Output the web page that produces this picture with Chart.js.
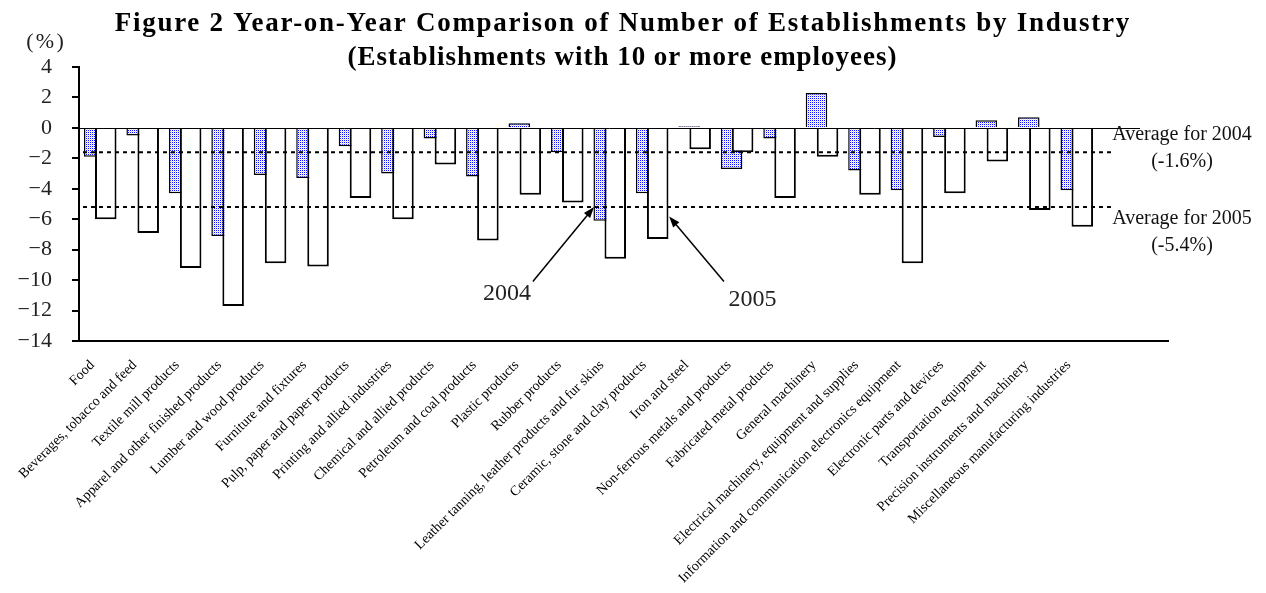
<!DOCTYPE html>
<html>
<head>
<meta charset="utf-8">
<script src="https://cdn.jsdelivr.net/npm/chart.js@4.4.1/dist/chart.umd.min.js"></script>
<style>
    html, body { margin: 0; padding: 0; background: #ffffff; }
</style>
</head>
<body>
<canvas id="barChart" width="1266" height="593"></canvas>
<script>
// categories and values (percent change)
const industries = [
    "Food",
    "Beverages, tobacco and feed",
    "Textile mill products",
    "Apparel and other finished products",
    "Lumber and wood products",
    "Furniture and fixtures",
    "Pulp, paper and paper products",
    "Printing and allied industries",
    "Chemical and allied products",
    "Petroleum and coal products",
    "Plastic products",
    "Rubber products",
    "Leather tanning, leather products and fur skins",
    "Ceramic, stone and clay products",
    "Iron and steel",
    "Non-ferrous metals and products",
    "Fabricated metal products",
    "General machinery",
    "Electrical machinery, equipment and supplies",
    "Information and communication electronics equipment",
    "Electronic parts and devices",
    "Transportation equipment",
    "Precision instruments and machinery",
    "Miscellaneous manufacturing industries"
];
const values2004 = [-1.9, -0.5, -4.3, -7.1, -3.1, -3.3, -1.2, -3.0, -0.7, -3.2, 0.3, -1.6,
    -6.1, -4.3, 0.1, -2.7, -0.7, 2.3, -2.8, -4.1, -0.6, 0.5, 0.7, -4.1];
const values2005 = [-6.0, -6.9, -9.2, -11.7, -8.9, -9.1, -4.6, -6.0, -2.4, -7.4, -4.4, -4.9,
    -8.6, -7.3, -1.4, -1.6, -4.6, -1.9, -4.4, -8.9, -4.3, -2.2, -5.4, -6.5];
const yTicks = [4, 2, 0, -2, -4, -6, -8, -10, -12, -14];

// average lines (as drawn) and their captions
const averageLines = [-1.6, -5.2];
const averageNotes = [
    { text: "Average for 2004", value: -0.45 },
    { text: "(-1.6%)", value: -2.2 },
    { text: "Average for 2005", value: -5.95 },
    { text: "(-5.4%)", value: -7.75 }
];
// arrow callouts: label position, arrow tail, arrow tip (category index, value)
const callouts = [
    { text: "2004", at: [9.58, -10.87], from: [10.19, -10.09], to: [11.63, -5.2] },
    { text: "2005", at: [15.36, -11.27], from: [14.69, -10.09], to: [13.4, -5.82] }
];

const serif = "'Liberation Serif', 'Times New Roman', serif";

function dotPattern(ctx) {
    let tile = document.createElement("canvas");
    tile.width = 2;
    tile.height = 2;
    let g = tile.getContext("2d");
    g.fillStyle = "#ffffff";
    g.fillRect(0, 0, 2, 2);
    g.fillStyle = "#0a0aff";
    g.fillRect(0, 0, 1, 1);
    g.fillStyle = "#d6d6ff";
    g.fillRect(1, 1, 1, 1);
    return ctx.createPattern(tile, "repeat");
}

function minus(v) {
    return v < 0 ? "\u2212" + Math.abs(v) : String(v);
}

// draw a line of text spread out to a given width
function spreadText(ctx, text, cx, cy, width) {
    ctx.letterSpacing = "0px";
    let plain = ctx.measureText(text).width;
    let gap = Math.max(0, (width - plain) / text.length);
    ctx.letterSpacing = gap.toFixed(2) + "px";
    ctx.fillText(text, cx + gap / 2, cy);
    ctx.letterSpacing = "0px";
}

const extras = {
    id: "extras",
    beforeDatasetDraw(chart, args) {
        // 2005 bars are drawn later, on top of the 2004 bars
        if (args.index === 1) return false;
    },
    afterDatasetsDraw(chart) {
        const { ctx, chartArea, scales } = chart;
        const x = scales.x, y = scales.y;
        chart.getDatasetMeta(1).controller.draw();

        ctx.save();
        // zero line
        let y0 = Math.round(y.getPixelForValue(0)) + 0.5;
        ctx.strokeStyle = "#000000";
        ctx.lineWidth = 1;
        ctx.beginPath();
        ctx.moveTo(chartArea.left, y0);
        ctx.lineTo(chartArea.right + 42, y0);
        ctx.stroke();

        // bottom line runs past the last category
        ctx.lineWidth = 2;
        ctx.beginPath();
        ctx.moveTo(chartArea.right - 2, chartArea.bottom);
        ctx.lineTo(chartArea.right + 71, chartArea.bottom);
        ctx.stroke();

        // dashed averages
        ctx.setLineDash([4, 4]);
        ctx.lineWidth = 2;
        averageLines.forEach(function (v) {
            let py = y.getPixelForValue(v);
            ctx.beginPath();
            ctx.moveTo(chartArea.left + 4, py);
            ctx.lineTo(chartArea.right + 15, py);
            ctx.stroke();
        });
        ctx.setLineDash([]);

        ctx.fillStyle = "#111111";
        ctx.font = "20px " + serif;
        ctx.textAlign = "center";
        ctx.textBaseline = "middle";
        averageNotes.forEach(function (n) {
            ctx.fillText(n.text, chartArea.right + 84, y.getPixelForValue(n.value));
        });

        // arrows
        ctx.font = "24px " + serif;
        ctx.strokeStyle = "#000000";
        ctx.lineWidth = 1.5;
        callouts.forEach(function (c) {
            ctx.fillStyle = "#222222";
            ctx.fillText(c.text, x.getPixelForValue(c.at[0]), y.getPixelForValue(c.at[1]));
            let x1 = x.getPixelForValue(c.from[0]), y1 = y.getPixelForValue(c.from[1]);
            let x2 = x.getPixelForValue(c.to[0]), y2 = y.getPixelForValue(c.to[1]);
            let ang = Math.atan2(y2 - y1, x2 - x1);
            ctx.beginPath();
            ctx.moveTo(x1, y1);
            ctx.lineTo(x2 - 6 * Math.cos(ang), y2 - 6 * Math.sin(ang));
            ctx.stroke();
            ctx.beginPath();
            ctx.moveTo(x2, y2);
            ctx.lineTo(x2 - 11 * Math.cos(ang) + 4 * Math.sin(ang), y2 - 11 * Math.sin(ang) - 4 * Math.cos(ang));
            ctx.lineTo(x2 - 11 * Math.cos(ang) - 4 * Math.sin(ang), y2 - 11 * Math.sin(ang) + 4 * Math.cos(ang));
            ctx.closePath();
            ctx.fillStyle = "#000000";
            ctx.fill();
        });
        ctx.restore();
    },
    afterDraw(chart) {
        const ctx = chart.ctx;
        ctx.save();
        ctx.fillStyle = "#000000";
        ctx.textAlign = "center";
        ctx.textBaseline = "alphabetic";
        ctx.font = "bold 27px " + serif;
        spreadText(ctx, "Figure 2 Year-on-Year Comparison of Number of Establishments by Industry", 622, 31, 1016);
        spreadText(ctx, "(Establishments with 10 or more employees)", 622, 65, 550);
        ctx.textBaseline = "middle";
        ctx.font = "22px " + serif;
        ctx.fillStyle = "#222222";
        spreadText(ctx, "(%)", 45, 42, 40);
        ctx.restore();
    }
};

let ctx = document.getElementById("barChart").getContext("2d");
let myChart = new Chart(ctx, {
    type: "bar",
    data: {
        labels: industries,
        datasets: [
            {
                label: "2004",
                data: values2004,
                backgroundColor: dotPattern(ctx),
                borderColor: "#000000",
                borderWidth: 1.5,
            },
            {
                label: "2005",
                data: values2005,
                backgroundColor: "#ffffff",
                borderColor: "#000000",
                borderWidth: 2,
            },
        ],
    },
    options: {
        responsive: false,
        animation: false,
        categoryPercentage: 0.52,
        barPercentage: 1.95,
        layout: { padding: { left: 0, top: 67, right: 168, bottom: 0 } },
        plugins: {
            legend: { display: false },
            tooltip: { enabled: false },
        },
        scales: {
            x: {
                afterFit: function (scale) { scale.height = 252; },
                grid: { display: false },
                border: { display: true, color: "#000000", width: 2 },
                ticks: {
                    autoSkip: false,
                    minRotation: 45,
                    maxRotation: 45,
                    padding: 8,
                    labelOffset: -8,
                    color: "#000000",
                    font: { family: serif, size: 14 },
                },
            },
            y: {
                min: Math.min(...yTicks),
                max: Math.max(...yTicks),
                afterFit: function (scale) { scale.width = 79; },
                afterBuildTicks: function (scale) {
                    scale.ticks = yTicks.map(function (v) { return { value: v }; });
                },
                grid: { drawOnChartArea: false, drawTicks: true, tickLength: 7, color: "#000000", lineWidth: 2 },
                border: { display: true, color: "#000000", width: 2 },
                ticks: {
                    padding: 20,
                    color: "#222222",
                    font: { family: serif, size: 22 },
                    callback: function (v) { return minus(v); },
                },
            },
        },
    },
    plugins: [extras],
});
</script>
</body>
</html>
